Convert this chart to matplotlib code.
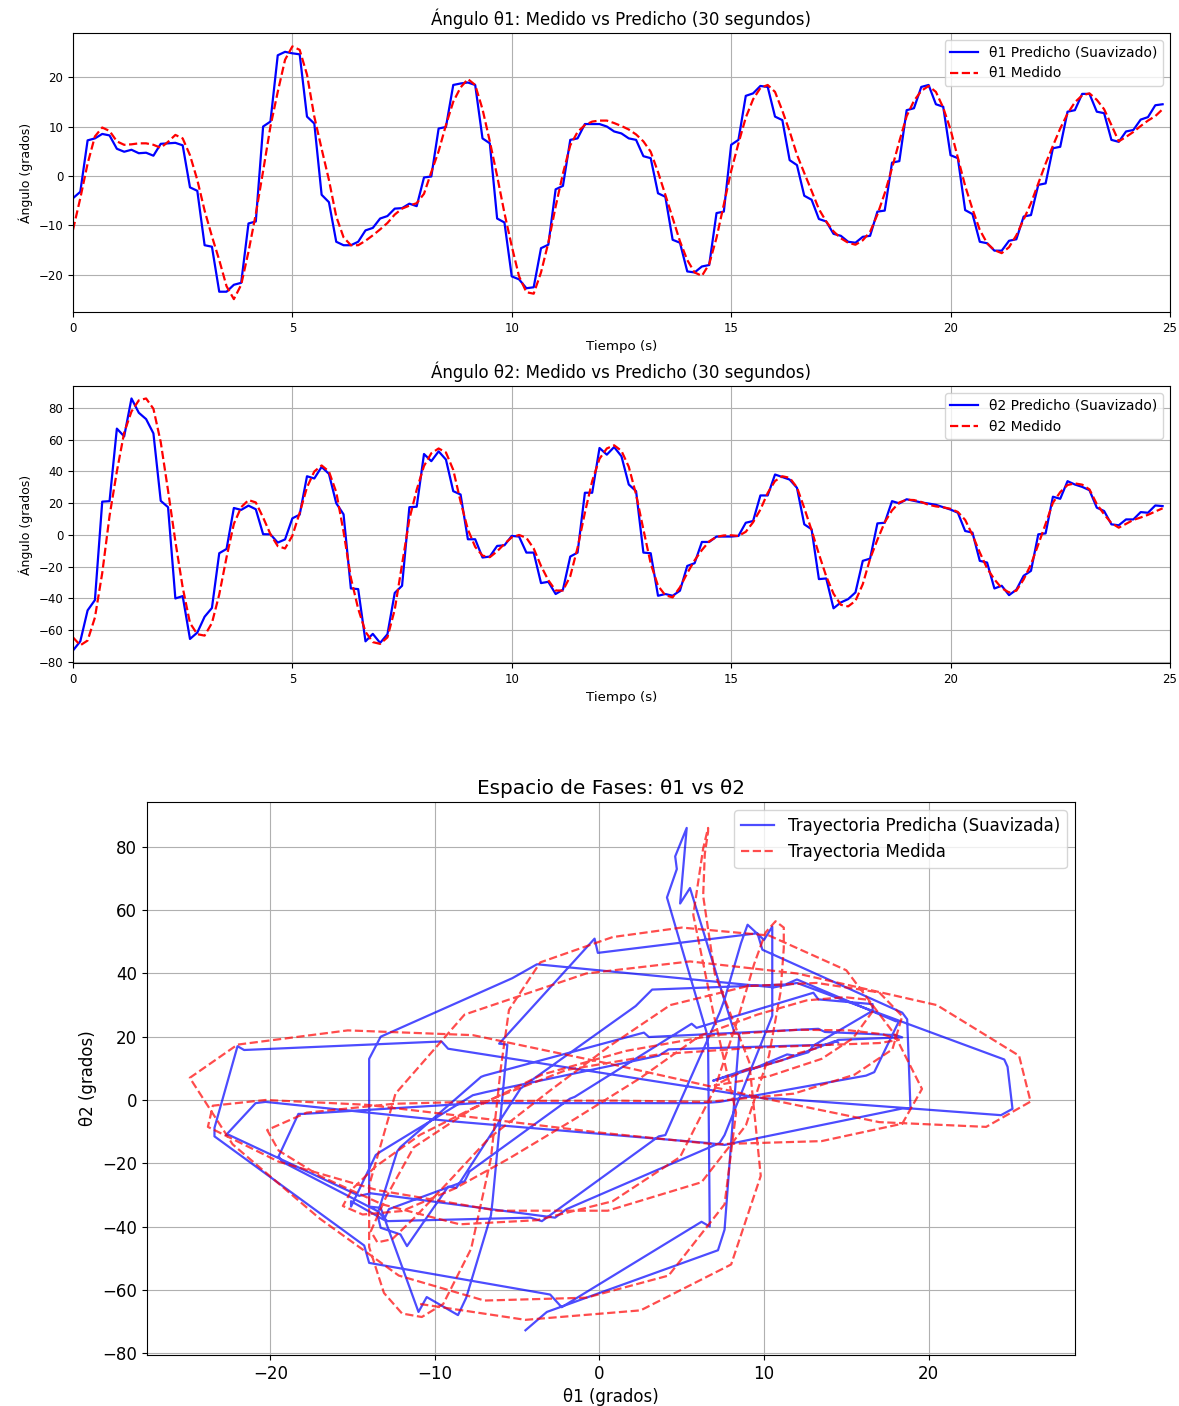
import numpy as np
import matplotlib
matplotlib.use("Agg")
import matplotlib.pyplot as plt

# ---------------- data ----------------
# predicted (smoothed) series, sampled every 1/6 s
t_pred = np.arange(150) / 6.0
theta1_pred = [
    -4.5, -3.2, 7.2, 7.6, 8.5, 8.2, 5.5, 4.9, 5.3, 4.6, 4.7, 4.1,
    6.5, 6.6, 6.7, 6.2, -2.3, -3.0, -14.0, -14.3, -23.4, -23.4, -22.0, -21.6,
    -9.6, -9.2, 10.0, 11.0, 24.4, 25.1, 24.8, 24.6, 12.0, 10.6, -3.8, -5.3,
    -13.3, -14.0, -14.0, -13.3, -11.0, -10.5, -8.6, -8.1, -6.6, -6.5, -5.6, -6.1,
    -0.3, -0.1, 9.6, 9.9, 18.4, 18.7, 18.9, 18.4, 7.6, 6.6, -8.6, -9.4,
    -20.3, -20.9, -22.7, -22.5, -14.6, -13.9, -2.7, -2.0, 7.3, 7.6, 10.5, 10.5,
    10.5, 10.0, 9.0, 8.6, 7.6, 7.3, 4.0, 3.6, -3.5, -4.2, -12.9, -13.5,
    -19.3, -19.5, -18.3, -18.0, -7.5, -7.2, 6.3, 7.3, 16.2, 16.7, 18.2, 18.0,
    12.0, 11.3, 3.2, 2.2, -4.0, -4.8, -8.7, -9.2, -11.7, -12.1, -13.3, -13.5,
    -12.3, -12.1, -7.2, -7.0, 2.7, 3.0, 13.3, 13.7, 18.0, 18.4, 14.5, 14.0,
    4.2, 3.6, -6.9, -7.7, -13.3, -13.6, -15.1, -15.1, -13.1, -12.8, -8.2, -7.9,
    -1.8, -1.5, 5.6, 5.9, 13.0, 13.3, 16.6, 16.6, 13.0, 12.7, 7.3, 6.9,
    9.0, 9.3, 11.4, 11.9, 14.3, 14.5,
]
theta2_pred = [
    -72.8, -67.0, -47.5, -41.0, 21.0, 21.3, 67.0, 62.1, 86.0, 77.0, 73.0, 64.0,
    21.5, 17.5, -40.0, -38.5, -65.5, -61.5, -51.5, -46.0, -11.5, -8.8, 17.0, 15.8,
    18.5, 16.2, 0.5, 0.4, -4.8, -2.8, 10.5, 12.8, 37.0, 35.6, 42.9, 38.5,
    20.0, 13.0, -33.7, -34.1, -67.0, -62.3, -68.0, -62.5, -36.5, -32.0, 17.5, 17.8,
    51.0, 46.5, 52.7, 47.5, 27.6, 25.5, -2.7, -2.7, -14.2, -13.6, -6.9, -6.5,
    -0.6, -1.0, -11.1, -11.1, -30.3, -29.5, -37.2, -34.5, -13.6, -11.1, 26.6, 26.6,
    54.8, 50.6, 55.4, 49.6, 31.8, 27.6, -11.1, -11.5, -38.3, -37.2, -38.3, -35.1,
    -19.5, -17.8, -4.4, -4.4, -1.0, -1.0, -1.0, -0.6, 7.7, 8.8, 24.9, 24.9,
    38.1, 36.5, 34.9, 29.7, 6.7, 3.6, -27.8, -27.4, -46.2, -42.5, -40.4, -36.2,
    -16.3, -14.9, 7.3, 7.7, 21.3, 19.9, 22.5, 21.5, 20.5, 19.8, 19.0, 17.5,
    16.0, 14.0, 2.5, 1.5, -16.3, -17.4, -33.7, -32.0, -37.9, -34.5, -25.7, -22.6,
    0.4, 1.0, 24.1, 22.8, 33.9, 31.8, 30.3, 28.2, 17.2, 15.1, 6.7, 6.1,
    9.8, 9.8, 14.4, 14.0, 18.6, 18.2,
]

# measured series, sampled every 1/6 s (one row per second)
t_meas = np.arange(150) / 6.0
theta1_meas = [
    -10.9, -4.5, 2.5, 8.0, 9.8, 9.1,
    7.0, 6.3, 6.4, 6.6, 6.6, 6.3,
    5.7, 6.9, 8.3, 7.6, 4.2, -0.8,
    -7.0, -12.2, -17.0, -22.3, -24.9, -22.0,
    -15.3, -7.7, 1.0, 10.0, 17.0, 23.5,
    26.2, 25.5, 20.5, 12.0, 5.5, -0.8,
    -8.2, -12.4, -14.0, -14.0, -13.1, -12.0,
    -10.8, -9.5, -7.8, -6.6, -6.0, -5.5,
    -3.6, 0.8, 5.0, 10.3, 15.0, 17.9,
    19.6, 18.4, 13.5, 7.0, 0.0, -7.5,
    -14.2, -20.3, -23.5, -23.8, -19.5, -13.5,
    -6.2, 0.5, 6.2, 8.9, 10.3, 11.0,
    11.2, 11.2, 10.7, 10.1, 9.4, 8.4,
    7.0, 4.9, 0.8, -3.8, -8.5, -13.2,
    -17.0, -19.5, -20.2, -17.8, -12.5, -5.8,
    1.0, 6.6, 11.8, 15.5, 17.8, 18.4,
    17.0, 13.2, 9.0, 4.3, 0.6, -3.0,
    -6.7, -9.2, -11.2, -12.6, -13.5, -13.9,
    -13.0, -11.3, -7.8, -3.5, 1.6, 7.0,
    12.1, 15.2, 17.2, 18.2, 17.0, 13.8,
    9.4, 3.7, -2.0, -6.7, -10.9, -13.6,
    -15.0, -15.6, -14.4, -12.0, -8.8, -5.5,
    -1.5, 2.5, 6.1, 9.6, 12.6, 14.9,
    16.3, 16.7, 15.4, 13.5, 10.3, 7.0,
    7.9, 8.9, 10.1, 11.2, 12.1, 13.5,
]
theta2_meas = [
    -64.5, -69.5, -66.5, -52.0, -24.0, 12.0,
    40.0, 64.5, 77.8, 84.8, 86.0, 79.5,
    58.5, 28.0, -4.0, -33.0, -55.5, -62.5,
    -63.4, -55.5, -37.5, -14.0, 7.0, 17.5,
    22.0, 20.5, 11.0, 0.5, -7.0, -8.5,
    -0.5, 14.0, 30.0, 40.0, 43.8, 40.0,
    27.0, 2.0, -27.0, -46.5, -61.0, -67.5,
    -68.6, -64.5, -47.0, -18.5, 10.0, 28.5,
    43.5, 51.5, 54.5, 52.0, 41.0, 21.0,
    3.5, -7.5, -13.0, -14.0, -10.3, -5.6,
    -1.5, 0.0, -1.8, -8.5, -19.5, -28.5,
    -35.0, -35.0, -26.0, -8.0, 14.0, 34.0,
    48.0, 54.5, 56.5, 53.0, 43.0, 25.5,
    3.5, -18.0, -32.0, -38.0, -39.3, -33.0,
    -24.0, -16.0, -9.5, -4.0, -1.2, -0.3,
    -0.2, -0.6, 2.0, 8.0, 16.0, 26.5,
    34.0, 37.0, 36.0, 30.0, 17.0, 3.0,
    -12.0, -26.0, -37.0, -44.0, -45.0, -41.5,
    -31.0, -15.0, -3.0, 8.0, 15.5, 20.5,
    22.2, 22.0, 20.8, 19.0, 18.0, 17.4,
    16.5, 14.5, 9.5, 0.0, -11.0, -21.0,
    -28.0, -33.5, -36.2, -35.1, -28.0, -18.5,
    -6.0, 7.0, 20.3, 27.0, 31.5, 32.5,
    31.7, 28.7, 19.5, 13.0, 7.5, 4.6,
    7.0, 9.5, 11.0, 12.7, 14.8, 16.8,
]

# ---------------- figure ----------------
plt.rcParams['font.family'] = ['DejaVu Sans']
fig = plt.figure(figsize=(11.79, 14.06), dpi=100)

ax1 = fig.add_axes([0.0619, 0.7781, 0.9304, 0.1984])
ax2 = fig.add_axes([0.0619, 0.5284, 0.9304, 0.1970])
ax3 = fig.add_axes([0.1247, 0.0363, 0.7871, 0.3933])

def ts_axis(ax, pred, meas, name, ylim):
    ax.plot(t_pred, pred, color='blue', lw=1.6, label=f'{name} Predicho (Suavizado)')
    ax.plot(t_meas, meas, color='red', ls='--', lw=1.6, label=f'{name} Medido')
    ax.set_xlim(0, 25)
    ax.set_ylim(*ylim)
    ax.set_title(f'Ángulo {name}: Medido vs Predicho (30 segundos)', fontsize=12)
    ax.set_xlabel('Tiempo (s)', fontsize=9.6)
    ax.set_ylabel('Ángulo (grados)', fontsize=9)
    ax.tick_params(labelsize=8.5)
    ax.grid(True)
    ax.legend(loc='upper right', fontsize=10)

ts_axis(ax1, theta1_pred, theta1_meas, 'θ1', (-27.5, 28.9))
ts_axis(ax2, theta2_pred, theta2_meas, 'θ2', (-80.7, 93.8))

ax3.plot(theta1_pred, theta2_pred, color='blue', alpha=0.7, lw=1.6,
         label='Trayectoria Predicha (Suavizada)')
ax3.plot(theta1_meas, theta2_meas, color='red', ls='--', alpha=0.7, lw=1.6,
         label='Trayectoria Medida')
ax3.set_xlim(-27.5, 28.9)
ax3.set_ylim(-80.6, 94.2)
ax3.set_title('Espacio de Fases: θ1 vs θ2', fontsize=14.4)
ax3.set_xlabel('θ1 (grados)', fontsize=12)
ax3.set_ylabel('θ2 (grados)', fontsize=12)
ax3.tick_params(labelsize=12)
ax3.grid(True)
ax3.legend(loc='upper right', fontsize=12)

fig.savefig('out.png', dpi=100)
